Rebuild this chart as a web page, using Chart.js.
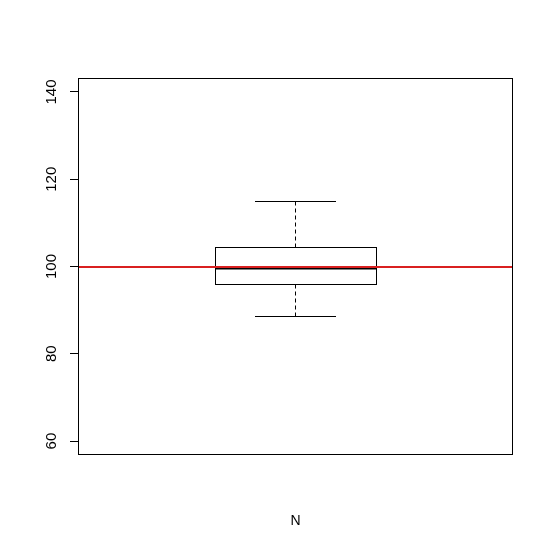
<!DOCTYPE html>
<html>
<head>
<meta charset="utf-8">
<script src="https://cdn.jsdelivr.net/npm/chart.js@4.4.1/dist/chart.umd.min.js"></script>
<style>
  html, body { margin: 0; padding: 0; background: #fff; }
  #wrap { width: 552px; height: 551px; }
</style>
</head>
<body>
<div id="wrap"><canvas id="chart" width="552" height="551"></canvas></div>
<script>
// boxplot stats
const labels = ['N'];
const whiskerLow = [88.7];
const q1 = [95.9];
const median = [99.6];
const q3 = [104.4];
const whiskerHigh = [115];
const refLine = 100;
const yTicks = [60, 80, 100, 120, 140];
const yMin = 56.8;
const yMax = 143.2;

const boxParts = {
    id: 'boxParts',
    afterDatasetsDraw(chart) {
        const ctx = chart.ctx;
        const y = chart.scales.y;
        const area = chart.chartArea;
        const meta = chart.getDatasetMeta(0);
        const px = v => Math.round(y.getPixelForValue(v)) + 0.5;

        ctx.save();
        ctx.strokeStyle = '#000';
        meta.data.forEach((bar, i) => {
            const cx = Math.floor(bar.x) + 0.5;
            const half = bar.width / 2;
            const cap = half / 2;

            // whiskers
            ctx.lineWidth = 1;
            ctx.setLineDash([4, 3]);
            ctx.beginPath();
            ctx.moveTo(cx, px(q3[i]));
            ctx.lineTo(cx, px(whiskerHigh[i]));
            ctx.moveTo(cx, px(q1[i]));
            ctx.lineTo(cx, px(whiskerLow[i]));
            ctx.stroke();
            ctx.setLineDash([]);

            // caps
            ctx.beginPath();
            ctx.moveTo(Math.round(cx - cap), px(whiskerHigh[i]));
            ctx.lineTo(Math.round(cx + cap), px(whiskerHigh[i]));
            ctx.moveTo(Math.round(cx - cap), px(whiskerLow[i]));
            ctx.lineTo(Math.round(cx + cap), px(whiskerLow[i]));
            ctx.stroke();

            // box outline, crisp
            ctx.strokeRect(Math.round(cx - half) + 0.5, px(q3[i]), Math.round(half * 2), px(q1[i]) - px(q3[i]));

            // median
            ctx.lineWidth = 3;
            ctx.beginPath();
            ctx.moveTo(Math.round(cx - half), Math.round(y.getPixelForValue(median[i])));
            ctx.lineTo(Math.round(cx + half) + 1, Math.round(y.getPixelForValue(median[i])));
            ctx.stroke();
        });

        // reference line
        ctx.strokeStyle = '#d92020';
        ctx.lineWidth = 2;
        ctx.beginPath();
        ctx.moveTo(area.left, Math.round(y.getPixelForValue(refLine)));
        ctx.lineTo(area.right, Math.round(y.getPixelForValue(refLine)));
        ctx.stroke();

        // frame
        ctx.strokeStyle = '#000';
        ctx.lineWidth = 1;
        ctx.strokeRect(area.left + 0.5, area.top + 0.5, area.right - area.left - 1, area.bottom - area.top - 1);
        ctx.restore();
    }
};

new Chart(document.getElementById('chart').getContext('2d'), {
    type: 'bar',
    data: {
        labels: labels,
        datasets: [{
            data: q1.map((v, i) => [v, q3[i]]),
            backgroundColor: '#fff',
            borderWidth: 0,
            barPercentage: 0.369,
            categoryPercentage: 1
        }]
    },
    options: {
        responsive: false,
        animation: false,
        layout: { padding: { left: 0, top: 78, right: 39, bottom: 0 } },
        plugins: { legend: { display: false }, tooltip: { enabled: false } },
        scales: {
            x: {
                grid: { display: false },
                border: { display: false },
                ticks: { color: '#000', padding: 50, font: { family: 'Liberation Sans', size: 14 } },
                afterFit: s => { s.height = 96; }
            },
            y: {
                min: yMin,
                max: yMax,
                afterBuildTicks: s => { s.ticks = yTicks.map(v => ({ value: v })); },
                grid: { drawOnChartArea: false, tickLength: 8, color: '#000' },
                border: { display: false },
                ticks: {
                    color: '#000',
                    minRotation: 90,
                    maxRotation: 90,
                    crossAlign: 'center',
                    padding: 6,
                    font: { family: 'Liberation Sans', size: 15 }
                },
                afterFit: s => { s.width = 78; }
            }
        }
    },
    plugins: [boxParts]
});
</script>
</body>
</html>
